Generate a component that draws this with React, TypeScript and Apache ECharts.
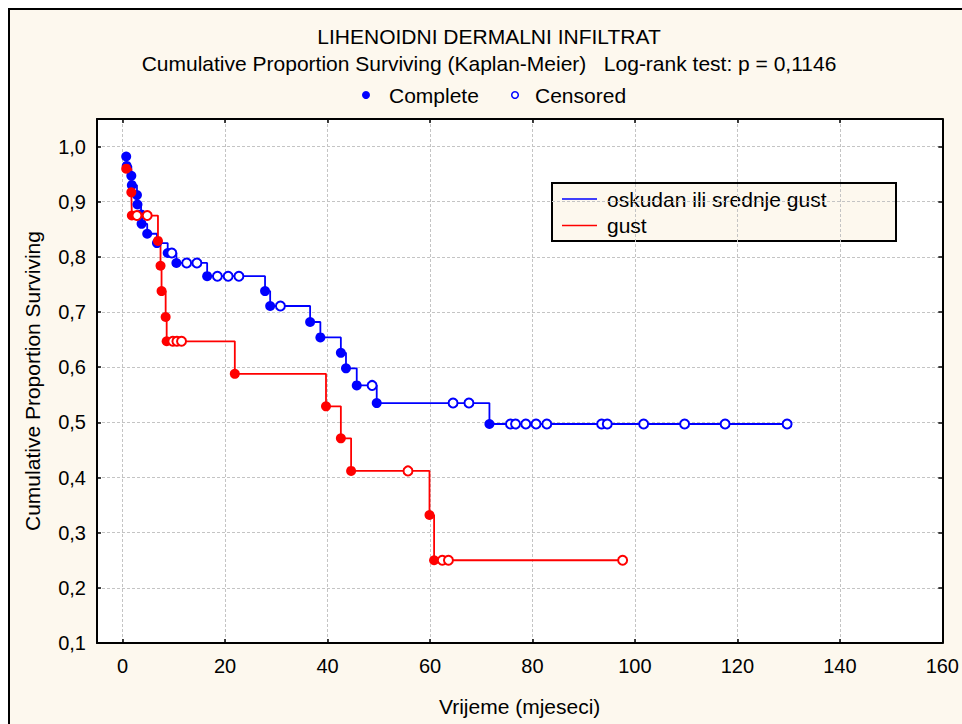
import React, { useEffect, useRef } from "react";
import * as echarts from "echarts";

// ---- Data ----
const titleText = "LIHENOIDNI DERMALNI INFILTRAT";
const subtitleText = "Cumulative Proportion Surviving (Kaplan-Meier)   Log-rank test: p = 0,1146";
const seriesNames = ["oskudan ili srednje gust", "gust"];
const xAxisName = "Vrijeme (mjeseci)";
const yAxisName = "Cumulative Proportion Surviving";

// oskudan ili srednje gust (blue): complete (events) and censored observations [time, S(t)]
const blueComplete: [number, number][] = [
  [0.7, 0.982], [0.8, 0.965], [1.7, 0.947], [1.8, 0.93], [2.8, 0.912], [2.9, 0.895],
  [3.6, 0.877], [3.7, 0.86], [4.8, 0.842], [6.7, 0.825], [8.8, 0.807], [10.5, 0.789],
  [16.5, 0.765], [27.8, 0.738], [28.8, 0.711], [36.6, 0.682], [38.6, 0.654],
  [42.6, 0.626], [43.6, 0.598], [45.7, 0.567], [49.6, 0.535], [71.6, 0.497],
];
const blueCensored: [number, number][] = [
  [9.6, 0.807], [12.5, 0.789], [14.5, 0.789], [18.5, 0.765], [20.6, 0.765], [22.7, 0.765],
  [30.8, 0.711], [48.7, 0.567], [64.5, 0.535], [67.6, 0.535],
  [75.7, 0.497], [76.7, 0.497], [78.7, 0.497], [80.7, 0.497], [82.8, 0.497],
  [93.5, 0.497], [94.6, 0.497], [101.7, 0.497], [109.7, 0.497], [117.6, 0.497], [129.7, 0.497],
];

// gust (red)
const redComplete: [number, number][] = [
  [0.7, 0.96], [1.7, 0.917], [1.8, 0.875], [6.9, 0.829], [7.4, 0.784], [7.6, 0.738],
  [8.4, 0.691], [8.6, 0.647], [21.9, 0.588], [39.7, 0.529], [42.6, 0.471],
  [44.6, 0.412], [59.9, 0.332], [60.8, 0.25],
];
const redCensored: [number, number][] = [
  [2.8, 0.875], [4.8, 0.875], [9.8, 0.647], [10.6, 0.647], [11.5, 0.647],
  [55.7, 0.412], [62.4, 0.25], [63.6, 0.25], [97.6, 0.25],
];

const BLUE = "#0000ff";
const RED = "#ff0000";
const BG = "#fdf8ee";
const FONT = "'Liberation Sans', Arial, sans-serif";
const FS = 21;
const FS_TICK = 20;

const merge = (a: [number, number][], b: [number, number][]) =>
  [...a, ...b].sort((p, q) => p[0] - q[0]);

export default function App() {
  const ref = useRef<HTMLDivElement>(null);

  useEffect(() => {
    if (!ref.current) return;
    const chart = echarts.init(ref.current, null, { renderer: "svg" });

    const yFmt = (v: number) =>
      Math.abs(v * 10 - Math.round(v * 10)) < 1e-6 ? v.toFixed(1).replace(".", ",") : "";

    const gridLine = { show: true, lineStyle: { color: "#c4c4c4", type: [3, 2] as any, width: 1 } };
    const axisLine = { show: true, onZero: false, lineStyle: { color: "#000", width: 2 } };
    const axisTick = { show: true, inside: true, length: 4, lineStyle: { color: "#000", width: 1.5 } };

    const xBase = {
      type: "value" as const,
      min: -5,
      max: 160,
      minInterval: 20,
      maxInterval: 20,
      splitNumber: 8,
      gridIndex: 0,
    };
    const yBase = {
      type: "value" as const,
      min: 0.1,
      max: 1.05,
      interval: 0.1,
      gridIndex: 0,
    };

    const txt = (text: string, x: number, y: number, align = "center") => ({
      type: "text",
      x,
      y,
      style: {
        text,
        fill: "#000",
        font: `${FS}px ${FONT}`,
        align,
        verticalAlign: "middle",
        textAlign: align,
        textVerticalAlign: "middle",
      },
    });

    chart.setOption({
      animation: false,
      backgroundColor: BG,
      textStyle: { fontFamily: FONT },
      grid: {
        left: 87,
        top: 109,
        width: 846,
        height: 524,
        show: true,
        backgroundColor: "#ffffff",
        borderWidth: 0,
      },
      xAxis: [
        {
          ...xBase,
          position: "bottom",
          name: xAxisName,
          nameLocation: "middle",
          nameGap: 53,
          nameTextStyle: { fontSize: FS, color: "#000", fontFamily: FONT },
          axisLine,
          axisTick,
          axisLabel: {
            fontSize: FS_TICK,
            color: "#000",
            margin: 13,
            fontFamily: FONT,
            showMinLabel: false,
            formatter: (v: number) => (v < 0 ? "" : String(v)),
          },
          splitLine: gridLine,
        },
        {
          ...xBase,
          position: "top",
          axisLine,
          axisTick,
          axisLabel: { show: false },
          splitLine: { show: false },
        },
      ],
      yAxis: [
        {
          ...yBase,
          position: "left",
          name: yAxisName,
          nameLocation: "middle",
          nameGap: 54,
          nameTextStyle: { fontSize: FS, color: "#000", fontFamily: FONT },
          axisLine,
          axisTick,
          axisLabel: { fontSize: FS_TICK, color: "#000", margin: 11, fontFamily: FONT, formatter: yFmt },
          splitLine: gridLine,
        },
        {
          ...yBase,
          position: "right",
          axisLine,
          axisTick,
          axisLabel: { show: false },
          splitLine: { show: false },
        },
      ],
      series: [
        {
          name: seriesNames[0],
          type: "line",
          step: "end",
          showSymbol: false,
          data: merge(blueComplete, blueCensored),
          lineStyle: { color: BLUE, width: 1.8 },
          z: 2,
        },
        {
          name: seriesNames[1],
          type: "line",
          step: "end",
          showSymbol: false,
          data: merge(redComplete, redCensored),
          lineStyle: { color: RED, width: 1.8 },
          z: 3,
        },
        {
          type: "scatter",
          data: blueComplete,
          symbol: "circle",
          symbolSize: 10,
          itemStyle: { color: BLUE, opacity: 1 },
          z: 4,
        },
        {
          type: "scatter",
          data: blueCensored,
          symbol: "circle",
          symbolSize: 9,
          itemStyle: { color: "#ffffff", borderColor: BLUE, borderWidth: 2, opacity: 1 },
          z: 4,
        },
        {
          type: "scatter",
          data: redComplete,
          symbol: "circle",
          symbolSize: 10,
          itemStyle: { color: RED, opacity: 1 },
          z: 5,
        },
        {
          type: "scatter",
          data: redCensored,
          symbol: "circle",
          symbolSize: 9,
          itemStyle: { color: "#ffffff", borderColor: RED, borderWidth: 2, opacity: 1 },
          z: 5,
        },
      ],
      graphic: [
        txt(titleText, 479, 26),
        txt(subtitleText, 479, 53),
        { type: "circle", shape: { cx: 356, cy: 85, r: 4 }, style: { fill: BLUE } },
        txt("Complete", 379, 85, "left"),
        {
          type: "circle",
          shape: { cx: 505, cy: 85, r: 3.3 },
          style: { fill: "#fff", stroke: BLUE, lineWidth: 1.5 },
        },
        txt("Censored", 525, 85, "left"),
        {
          type: "group",
          z: 20,
          children: [
            {
              type: "rect",
              shape: { x: 542, y: 173, width: 344, height: 58 },
              style: { fill: BG, stroke: "#000", lineWidth: 2 },
            },
            {
              type: "line",
              shape: { x1: 552, y1: 189, x2: 587, y2: 189 },
              style: { stroke: BLUE, lineWidth: 1.5 },
            },
            {
              type: "line",
              shape: { x1: 552, y1: 215.5, x2: 587, y2: 215.5 },
              style: { stroke: RED, lineWidth: 1.5 },
            },
            txt(seriesNames[0], 597, 189, "left"),
            txt(seriesNames[1], 597, 215.5, "left"),
          ],
        },
      ],
    });

    return () => chart.dispose();
  }, []);

  return (
    <div
      style={{
        position: "fixed",
        left: 8,
        top: 8,
        width: 954,
        height: 716,
        boxSizing: "border-box",
        borderLeft: "2px solid #000",
        borderTop: "2px solid #000",
        background: BG,
        overflow: "hidden",
      }}
    >
      <div ref={ref} style={{ width: 952, height: 714 }} />
    </div>
  );
}
